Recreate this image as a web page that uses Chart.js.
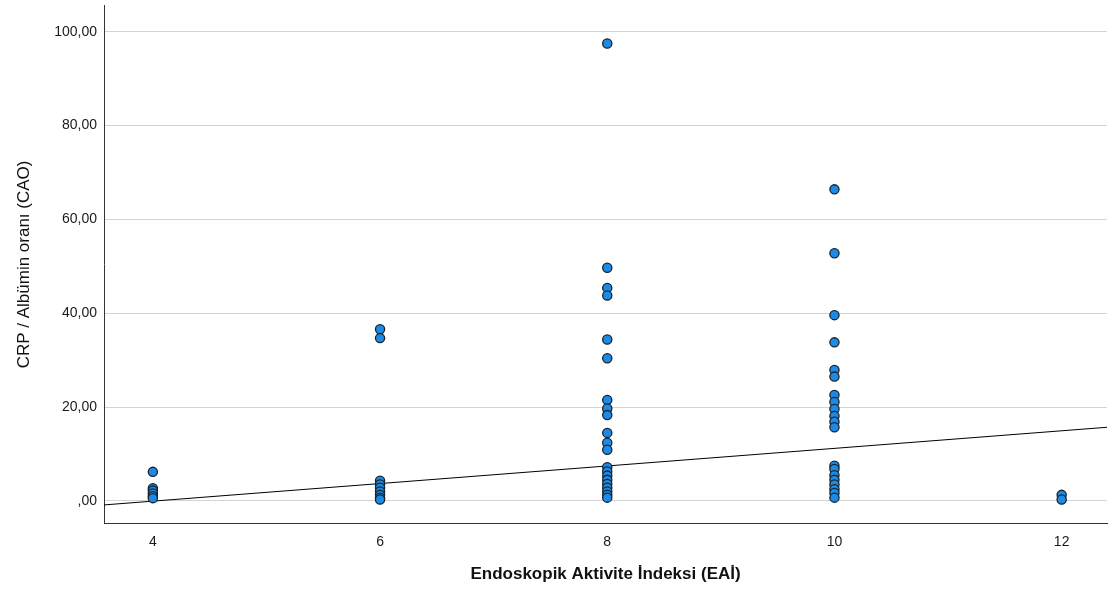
<!DOCTYPE html>
<html>
<head>
<meta charset="utf-8">
<script src="https://cdn.jsdelivr.net/npm/chart.js@4/dist/chart.umd.min.js"></script>
<style>
html,body{margin:0;padding:0;background:#fff;}
#wrap{width:1113px;height:597px;position:relative;}
</style>
</head>
<body>
<div id="wrap"><canvas id="c" width="1113" height="597"></canvas></div>
<script>
// Data (x = EAİ, y = CAO)
const xTicks = [4, 6, 8, 10, 12];
const yTicks = [0, 20, 40, 60, 80, 100];
const eai4  = [6.2, 2.7, 2.2, 1.6, 1.0, 0.6];
const eai6  = [36.6, 34.7, 4.3, 3.5, 2.8, 2.0, 1.3, 0.7, 0.3];
const eai8  = [97.5, 49.7, 45.4, 43.8, 34.4, 30.4, 21.5, 19.7, 18.3, 14.5, 12.4, 10.9,
               7.2, 6.3, 5.4, 4.5, 3.6, 2.8, 2.0, 1.3, 0.7];
const eai10 = [66.4, 52.8, 39.6, 33.8, 27.9, 26.5, 22.6, 21.1, 19.6, 18.1, 16.9, 15.7,
               7.5, 6.8, 5.5, 4.5, 3.5, 2.5, 1.7, 0.7];
const eai12 = [1.3, 0.3];
const fitX = [3.57, 12.4];
const fitY = [-0.85, 15.7];

const groups = [[4, eai4], [6, eai6], [8, eai8], [10, eai10], [12, eai12]];
const points = [];
groups.forEach(([x, ys]) => ys.forEach(y => points.push({x: x, y: y})));
const fitLine = fitX.map((x, i) => ({x: x, y: fitY[i]}));

const fmt = v => {
  if (v === 0) return ',00';
  return v.toFixed(2).replace('.', ',');
};

new Chart(document.getElementById('c'), {
  type: 'scatter',
  data: {
    datasets: [
      {
        type: 'line',
        data: fitLine,
        borderColor: '#000000',
        borderWidth: 1,
        pointRadius: 0,
        fill: false,
        order: 2
      },
      {
        data: points,
        backgroundColor: '#1e8ae3',
        borderColor: '#17232f',
        borderWidth: 1.3,
        pointRadius: 4.6,
        order: 1
      }
    ]
  },
  options: {
    responsive: false,
    animation: false,
    layout: {padding: {left: 0, top: 5, right: 3, bottom: 0}},
    plugins: {legend: {display: false}, tooltip: {enabled: false}},
    scales: {
      x: {
        type: 'linear',
        min: 3.57,
        max: 12.4,
        afterBuildTicks: s => { s.ticks = xTicks.map(v => ({value: v})); },
        afterFit: s => { s.height = 74; s.paddingLeft = 0; s.paddingRight = 0; },
        grid: {display: false, drawTicks: false},
        border: {display: true, color: '#333333', width: 1},
        ticks: {
          color: '#1a1a1a',
          font: {family: 'Liberation Sans, Arial, sans-serif', size: 14},
          padding: 11,
          maxRotation: 0
        },
        title: {
          display: true,
          text: 'Endoskopik Aktivite İndeksi (EAİ)',
          color: '#111111',
          font: {family: 'Liberation Sans, Arial, sans-serif', size: 17, weight: 'bold'},
          padding: {top: 0, bottom: 12}
        }
      },
      y: {
        type: 'linear',
        min: -4.7,
        max: 105.5,
        afterBuildTicks: s => { s.ticks = yTicks.map(v => ({value: v})); },
        afterFit: s => { s.width = 104; s.paddingTop = 0; s.paddingBottom = 0; },
        grid: {color: '#d4d4d4', lineWidth: 1, drawTicks: false},
        border: {display: true, color: '#333333', width: 1},
        ticks: {
          color: '#1a1a1a',
          font: {family: 'Liberation Sans, Arial, sans-serif', size: 14},
          padding: 7,
          callback: v => fmt(v)
        },
        title: {
          display: true,
          text: 'CRP / Albümin oranı (CAO)',
          color: '#111111',
          font: {family: 'Liberation Sans Narrow, Liberation Sans, Arial, sans-serif', size: 17},
          padding: {top: 14, bottom: 6}
        }
      }
    }
  }
});
</script>
</body>
</html>
